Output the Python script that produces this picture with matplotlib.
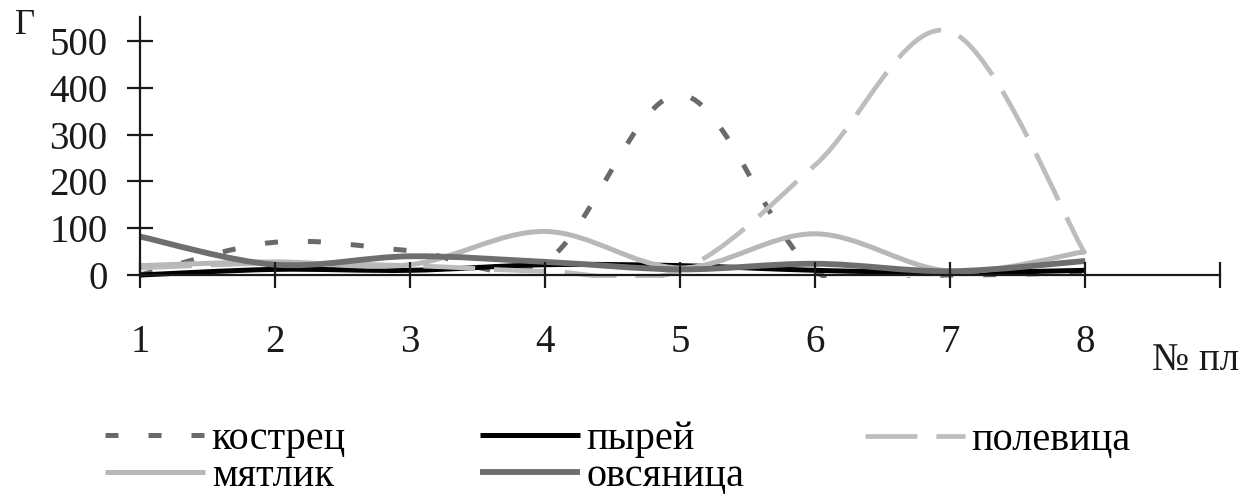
import numpy as np
import matplotlib.pyplot as plt
from matplotlib.path import Path
from matplotlib.patches import PathPatch, Rectangle
from matplotlib.lines import Line2D

plt.rcParams['font.family'] = ['Liberation Serif', 'DejaVu Serif']

# plot numbers (№ пл) and values, г
plots = [1, 2, 3, 4, 5, 6, 7, 8]
kostrec = [0, 70, 52, 28, 385, 8, 0, 5]
pyrei = [0, 12, 10, 22, 20, 10, 5, 10]
polevica = [15, 25, 20, 8, 10, 235, 520, 45]
myatlik = [20, 28, 22, 93, 15, 88, 8, 50]
ovsyanica = [82, 22, 40, 28, 12, 24, 8, 30]

x_ticks = [1, 2, 3, 4, 5, 6, 7, 8, 9]
x_labels = ['1', '2', '3', '4', '5', '6', '7', '8', '']
y_ticks = [0, 100, 200, 300, 400, 500]


def smooth_path(xs, ys):
    # excel-like smoothed line: cubic bezier through the points
    p = np.column_stack([xs, ys]).astype(float)
    n = len(p)
    verts = [p[0]]
    codes = [Path.MOVETO]
    for i in range(n - 1):
        prev = p[i - 1] if i > 0 else p[i]
        nxt = p[i + 2] if i + 2 < n else p[i + 1]
        c1 = p[i] + (p[i + 1] - prev) / 6
        c2 = p[i + 1] - (nxt - p[i]) / 6
        verts += [c1, c2, p[i + 1]]
        codes += [Path.CURVE4] * 3
    return Path(verts, codes)


series = [
    ('кострец', kostrec, '#6a6a6a', 3.6, (0, (2.6, 6.0))),
    ('пырей', pyrei, '#000000', 3.6, '-'),
    ('полевица', polevica, '#bdbdbd', 3.4, (0, (11, 4))),
    ('мятлик', myatlik, '#b8b8b8', 3.6, '-'),
    ('овсяница', ovsyanica, '#6e6e6e', 4.2, '-'),
]

fig = plt.figure(figsize=(12.46, 5), dpi=100)
ax = fig.add_axes([0.1124, 0.45, 0.867, 0.516])

handles = {}
for name, vals, col, lw, ls in series:
    patch = PathPatch(smooth_path(plots, vals), fill=False, edgecolor=col,
                      linewidth=lw, linestyle=ls, capstyle='butt',
                      joinstyle='round')
    ax.add_patch(patch)
    # let the lines sit on the axis without dipping far below it
    patch.set_clip_path(Rectangle((0.9, -6), 8.5, 700, transform=ax.transData))
    handles[name] = Line2D([], [], color=col, linewidth=lw, linestyle=ls,
                           solid_capstyle='butt', dash_capstyle='butt')

ax.set_xlim(1, 9)
ax.set_ylim(0, 551)
ax.spines['top'].set_visible(False)
ax.spines['right'].set_visible(False)
for s in ('left', 'bottom'):
    ax.spines[s].set_linewidth(1.6)
    ax.spines[s].set_color('#1a1a1a')

ax.set_xticks(x_ticks)
ax.set_xticklabels(x_labels)
ax.set_yticks(y_ticks)
ax.tick_params(axis='both', direction='inout', length=19, width=1.6,
               color='#1a1a1a', labelsize=28, labelcolor='#1a1a1a')
ax.tick_params(axis='x', pad=26)
ax.tick_params(axis='y', pad=14)

fig.text(0.02, 0.948, 'Г', fontsize=25, ha='center', va='center', color='#1a1a1a')
fig.text(0.9595, 0.278, '№ пл', fontsize=28, ha='center', va='center', color='#1a1a1a')

# legend laid out as three columns, like the original
columns = [(['кострец', 'мятлик'], 105, 0.084),
           (['пырей', 'овсяница'], 480, 0.084),
           (['полевица'], 865, 0.12)]
for names, x0, y0 in columns:
    fig.legend([handles[k] for k in names], names,
               loc='center left', bbox_to_anchor=(x0 / 1246, y0),
               frameon=False, fontsize=29, handlelength=2.48,
               handletextpad=0.17, labelspacing=0.0, borderpad=0.0,
               borderaxespad=0.0)

fig.savefig('out.png', dpi=100)
